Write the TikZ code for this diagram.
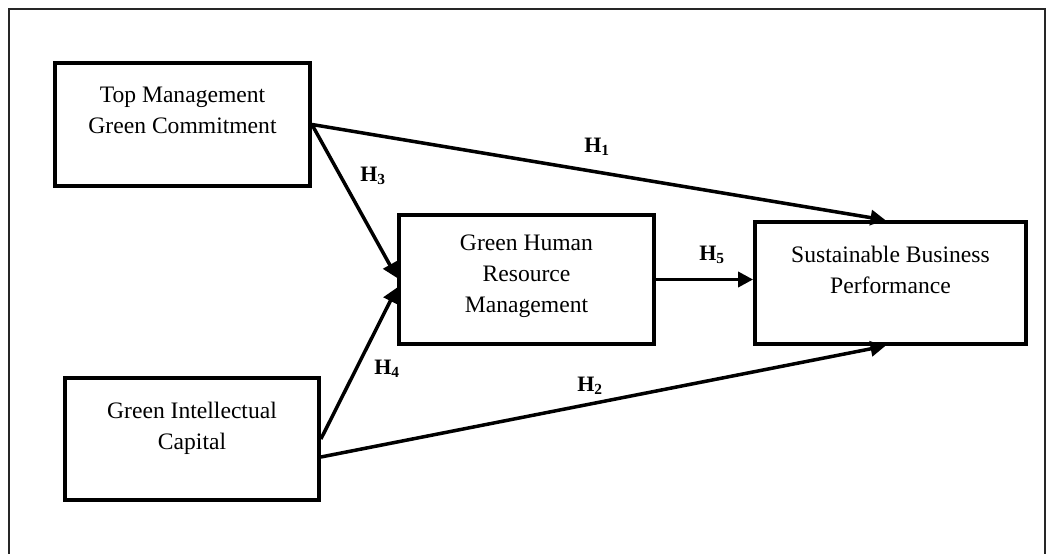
\documentclass[tikz,border=0pt]{standalone}
\usepackage{fontspec}
\setmainfont{Liberation Serif}
\usetikzlibrary{arrows.meta,positioning}

\tikzset{
  construct/.style={draw,line width=3.8pt,align=center,inner sep=0pt,
    font=\fontsize{23.6}{31}\selectfont},
  hyp/.style={line width=3.5pt,-{Triangle[length=15pt,width=15pt]}},
  hlabel/.style={inner sep=0pt,font=\fontsize{22}{24}\selectfont\bfseries}
}

\begin{document}
\begin{tikzpicture}[x=1pt,y=-1pt]
  \useasboundingbox (0,0) rectangle (1047,554);
  % frame (open at the bottom)
  \draw[line width=1.8pt,black!85] (9,570) -- (9,9) -- (1045,9) -- (1045,570);

  % constructs
  \node[construct,minimum width=255pt,text height=70pt,text depth=53pt] (tmgc) at (182.5,124.5) {Top Management\\Green Commitment};
  \node[construct,minimum width=254pt,text height=71pt,text depth=51pt] (gic) at (192,439) {Green Intellectual\\Capital};
  \node[construct,minimum width=255pt,text height=97pt,text depth=32pt] (ghrm) at (526.5,279.5) {Green Human\\Resource\\Management};
  \node[construct,minimum width=271pt,text height=71pt,text depth=51pt] (sbp) at (890.5,283) {Sustainable Business\\Performance};

  % hypotheses
  \draw[hyp] (tmgc.east) -- ([xshift=-5pt]sbp.north);
  \draw[hyp] ([yshift=-18pt]gic.east) -- ([xshift=-5pt]sbp.south);
  \draw[hyp] (tmgc.east) -- ([yshift=1.5pt]ghrm.west);
  \draw[hyp] (gic.east) -- ([yshift=-8pt]ghrm.west);
  \draw[hyp] (ghrm.east) -- (ghrm.east -| sbp.west);

  \node[hlabel] (h1) at (597,147) {H\textsubscript{1}};
  \node[hlabel] (h2) at (590,386) {H\textsubscript{2}};
  \node[hlabel] (h3) at (373,176) {H\textsubscript{3}};
  \node[hlabel] (h4) at (387,369) {H\textsubscript{4}};
  \node[hlabel] (h5) at (712,255) {H\textsubscript{5}};
\end{tikzpicture}
\end{document}
